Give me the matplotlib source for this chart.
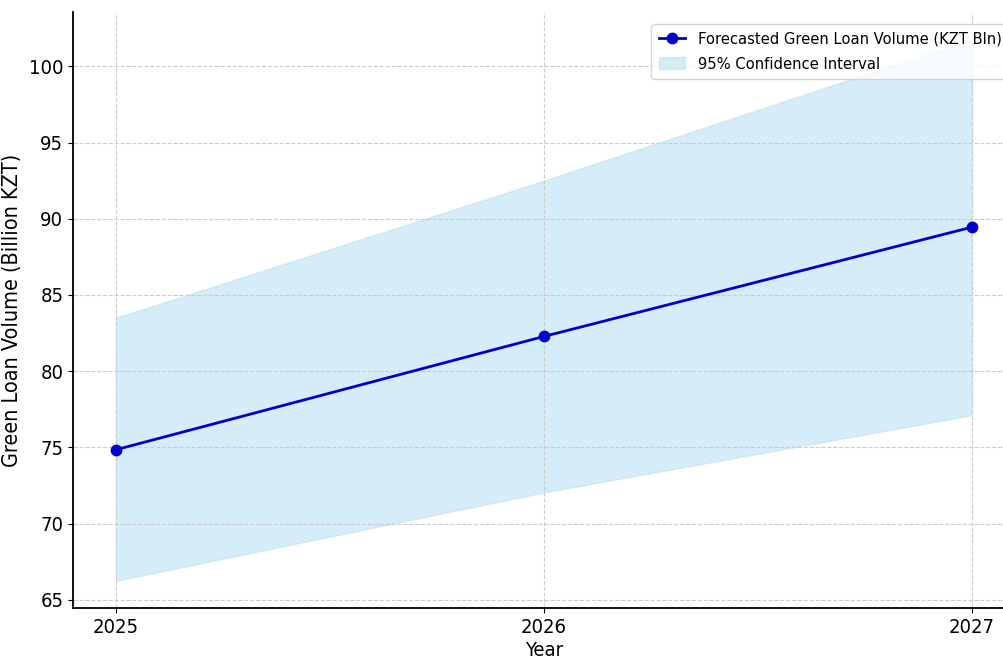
import matplotlib
matplotlib.use("Agg")
import matplotlib.pyplot as plt

years = [2025, 2026, 2027]
forecast = [74.85, 82.28, 89.45]
ci_lower = [66.25, 72.05, 77.12]
ci_upper = [83.5, 92.5, 101.78]

plt.rcParams['font.family'] = 'DejaVu Sans'
plt.rcParams['font.stretch'] = 'condensed'

fig = plt.figure(figsize=(10.04, 6.61), dpi=100)
ax = fig.add_axes([0.0727, 0.0802, 0.938, 0.9016])

ax.fill_between(years, ci_lower, ci_upper, color='skyblue', alpha=0.35,
                edgecolor='#a6d2e2', linewidth=1, label='95% Confidence Interval')
ax.plot(years, forecast, color='mediumblue', marker='o', markersize=7.5, linewidth=2,
        label='Forecasted Green Loan Volume (KZT Bln)')

ax.set_xticks(years)
ax.set_xticklabels([str(y) for y in years])
ax.set_xlabel('Year', fontsize=14.5, labelpad=3)
ax.set_ylabel('Green Loan Volume (Billion KZT)', fontsize=15.5, labelpad=5)
ax.tick_params(labelsize=14.5)

ax.grid(True, linestyle='--', color='#cccccc', linewidth=0.8)
ax.spines['top'].set_visible(False)
ax.spines['right'].set_visible(False)
ax.spines['left'].set_linewidth(1.3)
ax.spines['bottom'].set_linewidth(1.3)

handles, labels = ax.get_legend_handles_labels()
ax.legend(handles[::-1], labels[::-1], loc='upper right', fontsize=11.8,
          handlelength=1.6, labelspacing=0.62, borderpad=0.45,
          bbox_to_anchor=(1.003, 0.993))

fig.savefig('out.png', dpi=100)
